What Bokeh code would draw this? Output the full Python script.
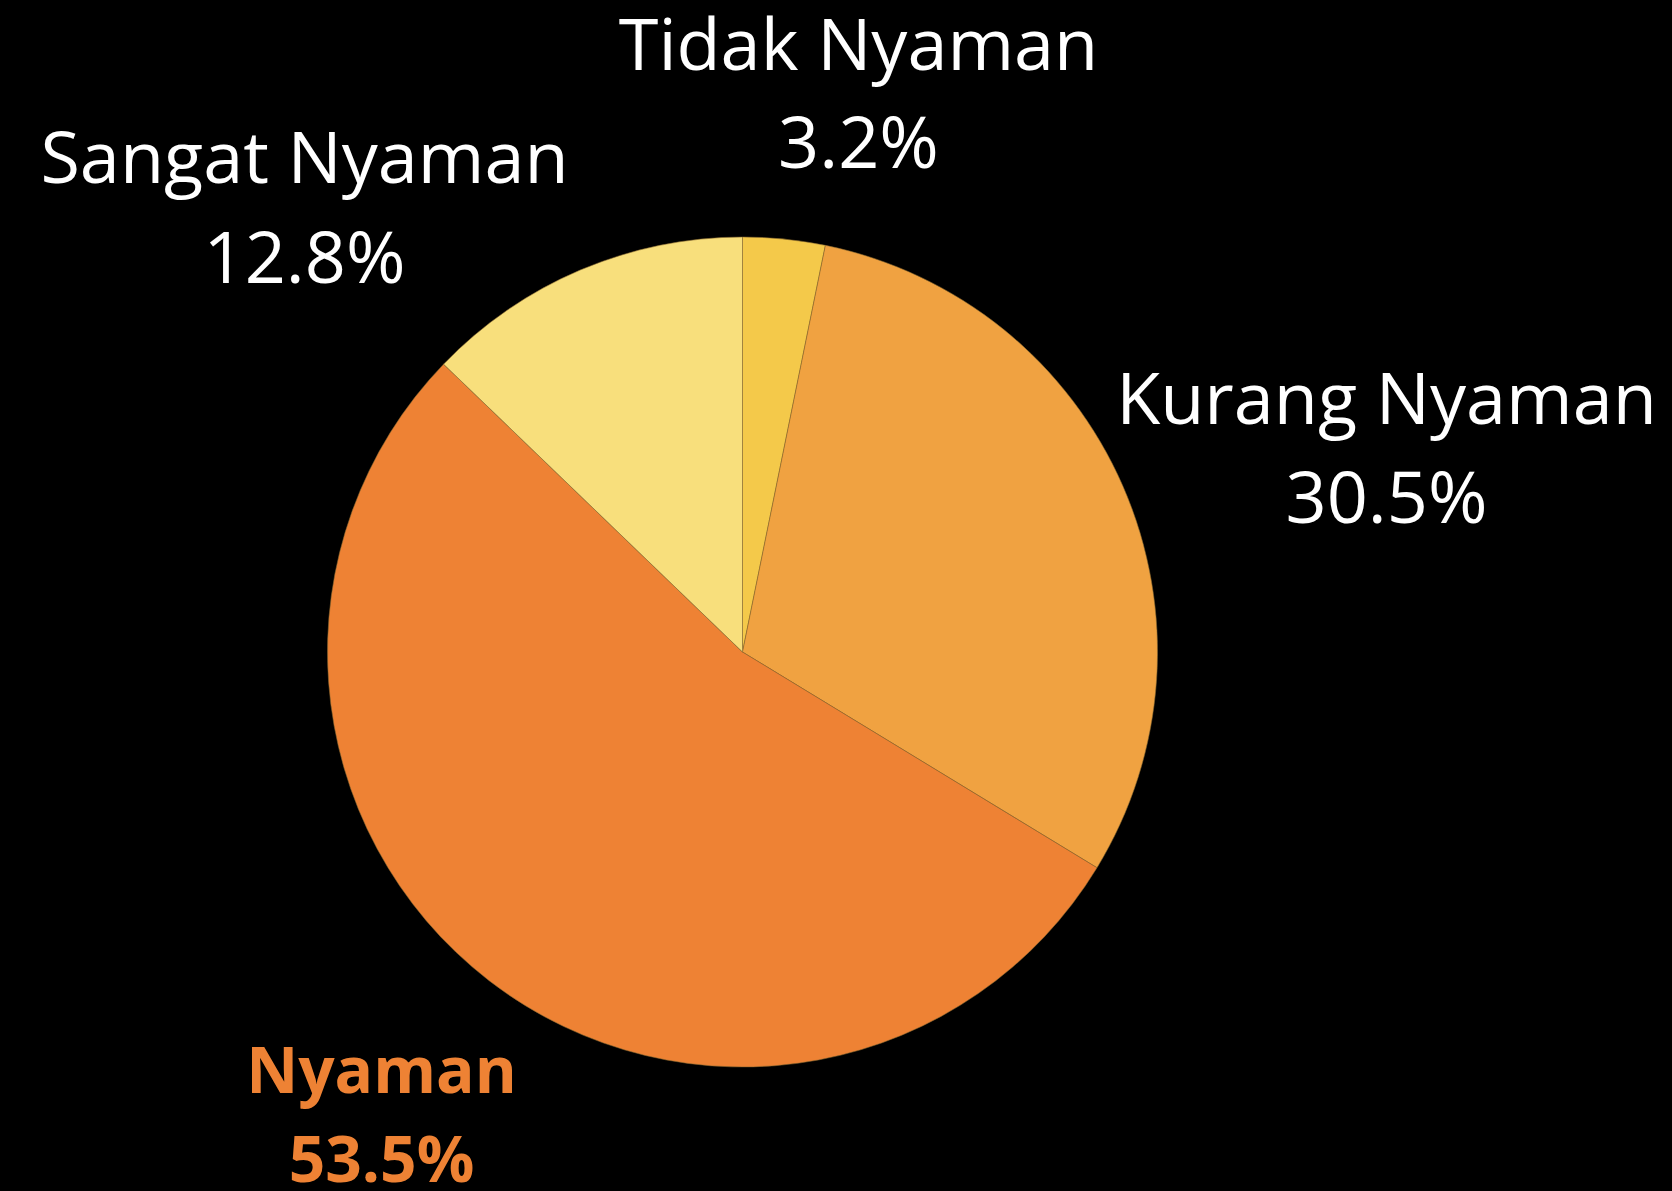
import math
from bokeh.plotting import figure
from bokeh.models import Range1d, ColumnDataSource
from bokeh.core.properties import value
from bokeh.embed import file_html
from bokeh.resources import INLINE

categories = ["Tidak Nyaman", "Kurang Nyaman", "Nyaman", "Sangat Nyaman"]
percents = [3.2, 30.5, 53.5, 12.8]
colors = ["#F4C94A", "#F0A241", "#EE8234", "#F8DF7C"]

W, H = 1672, 1191
p = figure(width=W, height=H, output_backend="svg", toolbar_location=None,
           x_range=Range1d(0, W), y_range=Range1d(0, H), min_border=0,
           background_fill_color="#000000", border_fill_color="#000000")
p.axis.visible = False
p.grid.visible = False
p.outline_line_color = None

cx, cy, r = 742, H - 651.5, 415
total = sum(percents)
starts, ends = [], []
a = math.pi / 2
for v in percents:
    starts.append(a)
    a -= v / total * 2 * math.pi
    ends.append(a)

src = ColumnDataSource(dict(start=starts, end=ends, color=colors))
p.wedge(x=cx, y=cy, radius=r, start_angle="end", end_angle="start",
        fill_color="color", line_color="#8a6a30", line_width=0.8, line_alpha=0.7,
        source=src)

# label layout (screen positions, from top-left); shifted to compensate baseline offset
shift = 28
label_x = [858, 1386, 381, 304]
label_y1 = [69, 423, 1096, 182]
label_y2 = [167, 522, 1185, 282]
fonts_col = ["#FFFFFF", "#FFFFFF", "#EE8234", "#FFFFFF"]
styles = ["normal", "normal", "bold", "normal"]
sizes = ["72px", "72px", "64px", "72px"]

for i, c in enumerate(categories):
    for txt, yy in ((c, label_y1[i]), (f"{percents[i]:.1f}%", label_y2[i])):
        p.text(x=[label_x[i]], y=[H - yy + shift], text=[txt], text_color=fonts_col[i],
               text_font=value("Open Sans"), text_font_size=sizes[i],
               text_font_style=styles[i], text_align="center",
               text_baseline="alphabetic")

html = file_html(p, INLINE)
html = html.replace("<html", '<html style="background:#000000;"', 1)
html = html.replace("<body>", '<body style="margin:0;background:#000000;overflow:hidden;">', 1)
open("out.html", "w").write(html)
